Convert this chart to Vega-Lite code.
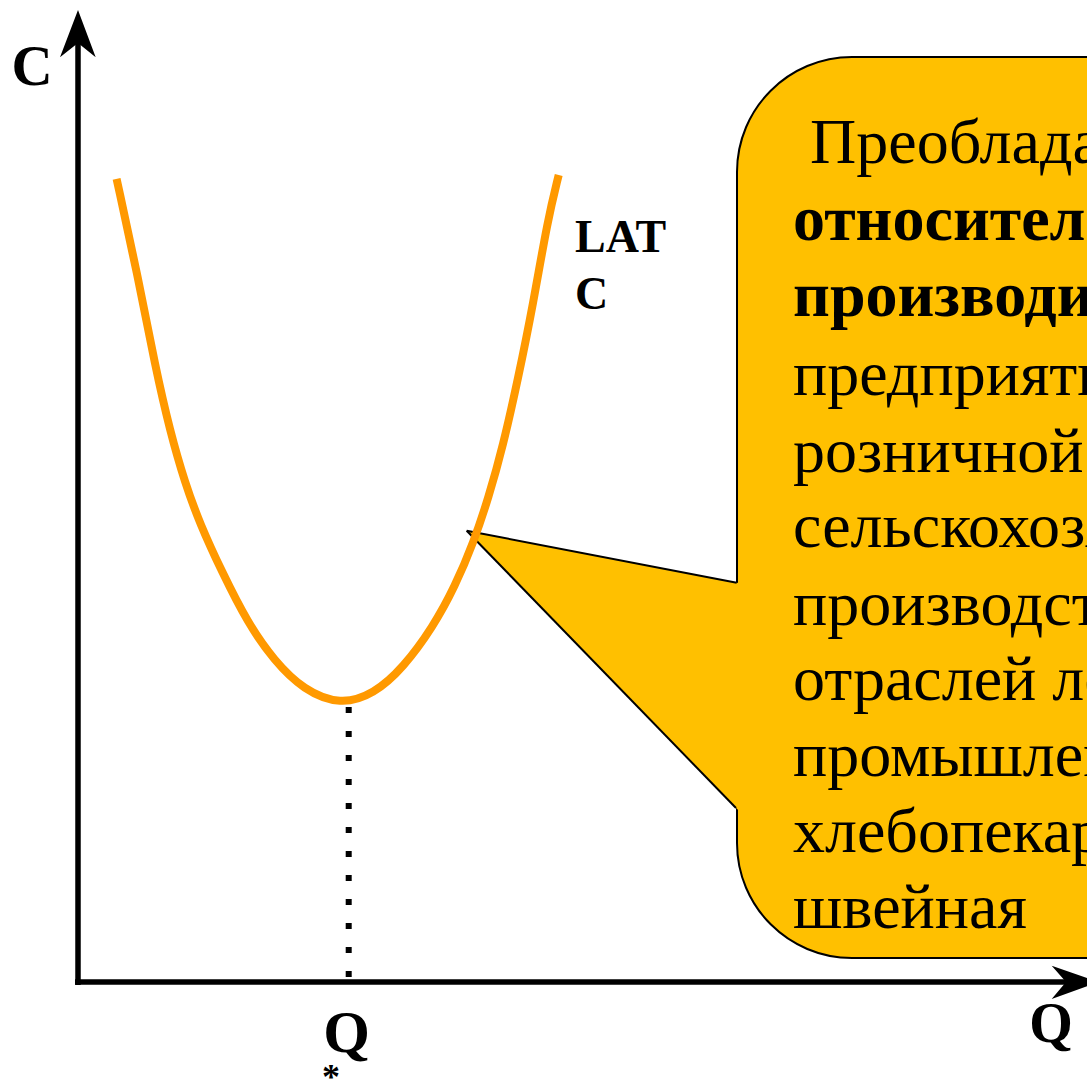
{
  "$schema": "https://vega.github.io/schema/vega-lite/v6.json",
  "width": 1087,
  "height": 1081,
  "autosize": {"type": "none"},
  "padding": 0,
  "background": "white",
  "config": {"view": {"stroke": null}},
  "encoding": {
    "x": {"field": "Q", "type": "quantitative", "scale": {"domain": [-78, 1009], "nice": false, "zero": false}, "axis": null},
    "y": {"field": "C", "type": "quantitative", "scale": {"domain": [-99, 982], "nice": false, "zero": false}, "axis": null}
  },
  "layer": [
    {
      "data": {"values": [{"Q": 659, "Q2": 1300, "C": 925, "C2": 24}]},
      "mark": {"type": "rect", "fill": "#FFC000", "stroke": "black", "strokeWidth": 2, "cornerRadius": 115, "clip": true},
      "encoding": {"x2": {"field": "Q2"}, "y2": {"field": "C2"}}
    },
    {
      "data": {"values": [{"Q": 388.7, "C": 451.3, "C2": 451.3}, {"Q": 663, "C": 398.5, "C2": 168.9}]},
      "mark": {"type": "area", "orient": "vertical", "fill": "#FFC000", "interpolate": "linear", "clip": true},
      "encoding": {"y2": {"field": "C2"}}
    },
    {
      "data": {"values": [{"Q": 388.7, "C": 451.3, "Q2": 658.7, "C2": 399.3}, {"Q": 388.7, "C": 451.3, "Q2": 658, "C2": 174}]},
      "mark": {"type": "rule", "color": "black", "strokeWidth": 2, "clip": true},
      "encoding": {"x2": {"field": "Q2"}, "y2": {"field": "C2"}}
    },
    {
      "data": {"values": [
        {"Q": 38.6, "C": 803.1}, {"Q": 59, "C": 710}, {"Q": 77.5, "C": 614}, {"Q": 92, "C": 551},
        {"Q": 107, "C": 499}, {"Q": 122, "C": 458}, {"Q": 144, "C": 410}, {"Q": 170, "C": 358.5},
        {"Q": 196, "C": 321.5}, {"Q": 225.5, "C": 292}, {"Q": 262.5, "C": 277}, {"Q": 296, "C": 288},
        {"Q": 325, "C": 314}, {"Q": 355, "C": 355}, {"Q": 377, "C": 395.5}, {"Q": 395.7, "C": 440},
        {"Q": 410.5, "C": 484.2}, {"Q": 425, "C": 536}, {"Q": 440, "C": 603}, {"Q": 455, "C": 677},
        {"Q": 469.6, "C": 762}, {"Q": 480.7, "C": 807}
      ]},
      "mark": {"type": "line", "color": "#FF9900", "strokeWidth": 8, "interpolate": "basis", "strokeCap": "butt", "clip": true}
    },
    {
      "data": {"values": [{"Q": 270.7, "C": 5, "C2": 275}]},
      "mark": {"type": "rule", "color": "black", "strokeWidth": 6, "strokeDash": [6, 18], "strokeCap": "butt"},
      "encoding": {"y2": {"field": "C2"}}
    },
    {
      "data": {"values": [{"Q": 0, "C": -3, "Q2": 0, "C2": 940}, {"Q": -3, "C": 0, "Q2": 990, "C2": 0}]},
      "mark": {"type": "rule", "color": "black", "strokeWidth": 5.5, "strokeCap": "butt", "clip": true},
      "encoding": {"x2": {"field": "Q2"}, "y2": {"field": "C2"}}
    },
    {
      "data": {"values": [{"Q": -18, "C": 924.7, "C2": 924.7}, {"Q": 0, "C": 972, "C2": 939}, {"Q": 17.7, "C": 924.7, "C2": 924.7}]},
      "mark": {"type": "area", "orient": "vertical", "color": "black", "interpolate": "linear", "clip": true},
      "encoding": {"y2": {"field": "C2"}}
    },
    {
      "data": {"values": [{"C": 16.3, "Q": 973.7, "Q2": 973.7}, {"C": 0, "Q": 988, "Q2": 1020.7}, {"C": -17, "Q": 973.7, "Q2": 973.7}]},
      "mark": {"type": "area", "orient": "horizontal", "color": "black", "interpolate": "linear", "clip": true},
      "encoding": {"x2": {"field": "Q2"}}
    },
    {
      "data": {"values": [{"Q": -46, "C": 897, "t": "C"}]},
      "mark": {"type": "text", "font": "Liberation Serif", "fontWeight": "bold", "fontSize": 57, "align": "center", "baseline": "alphabetic", "color": "black"},
      "encoding": {"text": {"field": "t"}}
    },
    {
      "data": {"values": [{"Q": 497, "C": 730, "t": "LAT"}, {"Q": 497, "C": 673, "t": "C"}]},
      "mark": {"type": "text", "font": "Liberation Serif", "fontWeight": "bold", "fontSize": 46, "align": "left", "baseline": "alphabetic", "color": "black"},
      "encoding": {"text": {"field": "t"}}
    },
    {
      "data": {"values": [{"Q": 268.5, "C": -70, "t": "Q"}]},
      "mark": {"type": "text", "font": "Liberation Serif", "fontWeight": "bold", "fontSize": 60, "align": "center", "baseline": "alphabetic", "color": "black"},
      "encoding": {"text": {"field": "t"}}
    },
    {
      "data": {"values": [{"Q": 253, "C": -107, "t": "*"}]},
      "mark": {"type": "text", "font": "Liberation Serif", "fontWeight": "bold", "fontSize": 36, "align": "center", "baseline": "alphabetic", "color": "black", "clip": true},
      "encoding": {"text": {"field": "t"}}
    },
    {
      "data": {"values": [{"Q": 973, "C": -60, "t": "Q"}]},
      "mark": {"type": "text", "font": "Liberation Serif", "fontWeight": "bold", "fontSize": 56, "align": "center", "baseline": "alphabetic", "color": "black"},
      "encoding": {"text": {"field": "t"}}
    },
    {
      "data": {"values": [
        {"Q": 732, "C": 819, "t": "Преобладание"},
        {"Q": 715, "C": 587, "t": "предприятия"},
        {"Q": 715, "C": 510, "t": "розничной торговли,"},
        {"Q": 715, "C": 435, "t": "сельскохозяйственного"},
        {"Q": 715, "C": 357, "t": "производства,"},
        {"Q": 715, "C": 282, "t": "отраслей легкой"},
        {"Q": 715, "C": 206, "t": "промышленности:"},
        {"Q": 715, "C": 130, "t": "хлебопекарная,"},
        {"Q": 715, "C": 54, "t": "швейная"}
      ]},
      "mark": {"type": "text", "font": "Liberation Serif", "fontSize": 64, "align": "left", "baseline": "alphabetic", "color": "black", "clip": true},
      "encoding": {"text": {"field": "t"}}
    },
    {
      "data": {"values": [
        {"Q": 715, "C": 742, "t": "относительно мелких"},
        {"Q": 715, "C": 666, "t": "производителей:"}
      ]},
      "mark": {"type": "text", "font": "Liberation Serif", "fontWeight": "bold", "fontSize": 64, "align": "left", "baseline": "alphabetic", "color": "black", "clip": true},
      "encoding": {"text": {"field": "t"}}
    }
  ]
}
